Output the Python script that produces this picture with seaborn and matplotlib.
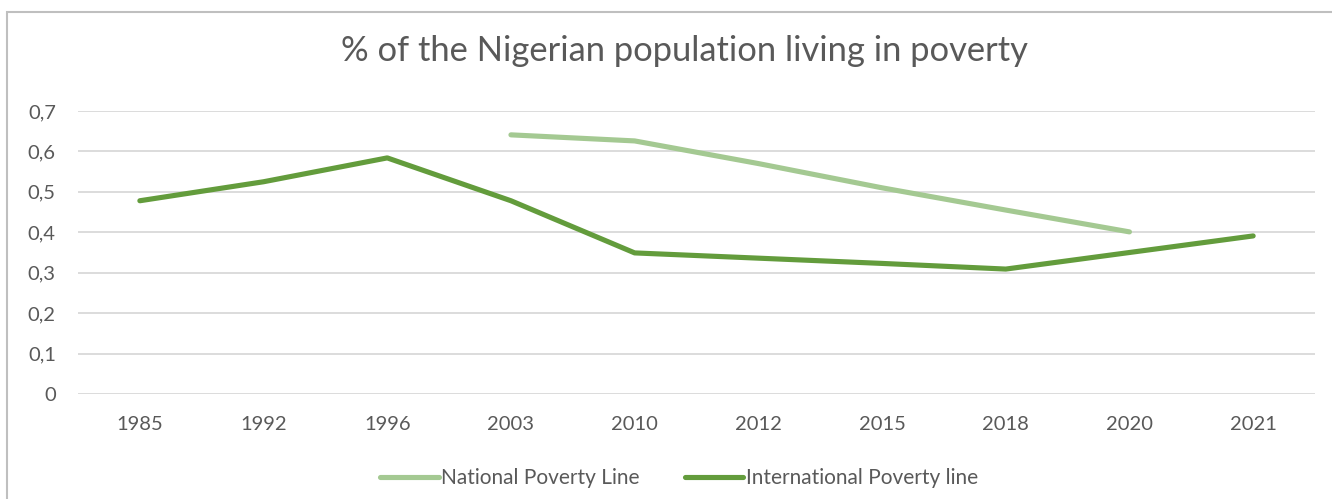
import matplotlib.pyplot as plt
import matplotlib.patches as mpatches
import numpy as np
import pandas as pd
import seaborn as sns

years = ["1985", "1992", "1996", "2003", "2010", "2012", "2015", "2018", "2020", "2021"]
national = [np.nan, np.nan, np.nan, 0.641, 0.626, 0.570, 0.510, 0.455, 0.401, np.nan]
international = [0.478, 0.525, 0.584, 0.478, 0.349, 0.336, 0.323, 0.309, 0.350, 0.391]

series_names = ["National Poverty Line", "International Poverty line"]
series_colors = ["#A4C992", "#639C3C"]

TEXT = "#595959"
GRID = "#D9D9D9"

df = pd.DataFrame({
    "year": years * 2,
    "value": national + international,
    "series": [series_names[0]] * len(years) + [series_names[1]] * len(years),
})
df = df.dropna()

sns.set_theme(style="white")
plt.rcParams["font.family"] = ["Lato", "DejaVu Sans"]

fig = plt.figure(figsize=(13.32, 4.99), dpi=100)
ax = fig.add_axes([78 / 1332, 1 - 394 / 499, (1315 - 78) / 1332, (394 - 111) / 499])

# keep category order fixed: 1985..2021
ax.plot(years, [0] * len(years), alpha=0)

sns.lineplot(
    data=df, x="year", y="value", hue="series",
    hue_order=series_names, palette=series_colors,
    linewidth=3.7, sort=False, ax=ax, legend=False,
    solid_capstyle="round", solid_joinstyle="round",
)

ax.set_xlim(-0.5, len(years) - 0.5)
ax.set_ylim(0, 0.7)
ticks = np.arange(0, 0.71, 0.1)
ax.set_yticks(ticks)
ax.set_yticklabels([("%.1f" % v).replace(".", ",").replace("0,0", "0") for v in ticks])
ax.yaxis.grid(True, color=GRID, linewidth=1.3)
ax.set_axisbelow(True)
for s in ax.spines.values():
    s.set_visible(False)
ax.tick_params(axis="both", length=0, labelsize=14.5, labelcolor=TEXT)
ax.tick_params(axis="y", pad=16)
ax.tick_params(axis="x", pad=16)
ax.set_xlabel("")
ax.set_ylabel("")

fig.text(0.514, 1 - 51 / 499, "% of the Nigerian population living in poverty",
         ha="center", va="center", fontsize=24.8, color=TEXT)

handles = [plt.Line2D([], [], color=c, linewidth=3.7, solid_capstyle="round") for c in series_colors]
fig.legend(handles, series_names, loc="center", bbox_to_anchor=(679 / 1332, 1 - 478 / 499),
           ncol=2, frameon=False, fontsize=15, labelcolor=TEXT,
           handlelength=2.8, handletextpad=0.1, columnspacing=2.2)

# chart frame (only left and top edges visible in the crop)
fig.patches.append(mpatches.Rectangle((7 / 1332, -0.1), 1.2, 1 - 12 / 499 + 0.1,
                                      transform=fig.transFigure, fill=False,
                                      edgecolor="#BFBFBF", linewidth=1.5))

fig.savefig("out.png", dpi=100)
